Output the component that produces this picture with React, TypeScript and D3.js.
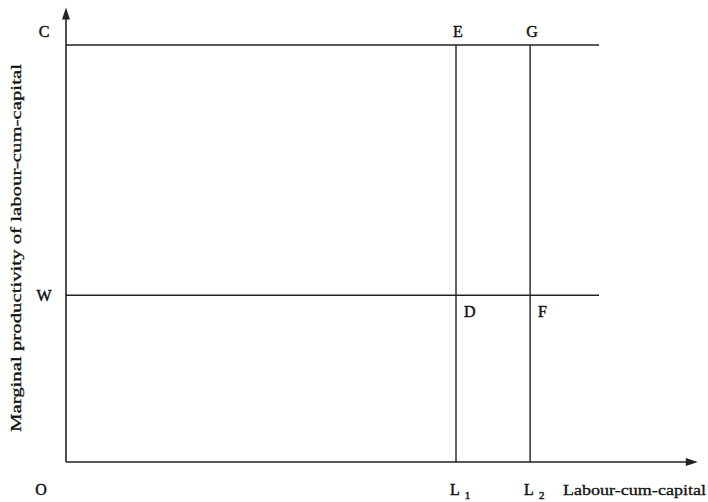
import React from "react";
import * as d3 from "d3";

const levels = [
  { name: "C", value: 10 },
  { name: "W", value: 4 },
];
const labourPoints = [
  { name: "L", sub: "1", value: 6, top: "E", bottom: "D" },
  { name: "L", sub: "2", value: 7.14, top: "G", bottom: "F" },
];
const lineEnd = 8.2;
const xAxisEnd = 9.72;
const yAxisEnd = 10.9;
const xTitle = "Labour-cum-capital";
const yTitle = "Marginal productivity of labour-cum-capital";

export default function App() {
  const W = 708, H = 502;
  const x = d3.scaleLinear().domain([0, 10]).range([66, 716]);
  const y = d3.scaleLinear().domain([0, 10]).range([462, 45]);
  const font = "'Liberation Serif', 'Times New Roman', serif";
  const stroke = "#222";
  const x0 = x(0), y0 = y(0);
  const xe = x(xAxisEnd), ye = y(yAxisEnd);
  const txt = { stroke: "#111", strokeWidth: 0.45 };
  return (
    <svg width={W} height={H} style={{ position: "absolute", left: 0, top: 0, background: "#fff" }}
      fontFamily={font} fill="#111">
      {/* axes */}
      <line x1={x0} y1={y0} x2={x0} y2={ye + 8} stroke={stroke} strokeWidth={1.6} />
      <path d={`M${x0},${ye} L${x0 - 4},${ye + 12} L${x0 + 4},${ye + 12} Z`} fill={stroke} />
      <line x1={x0} y1={y0} x2={xe - 8} y2={y0} stroke={stroke} strokeWidth={1.6} />
      <path d={`M${xe},${y0} L${xe - 12},${y0 - 4} L${xe - 12},${y0 + 4} Z`} fill={stroke} />
      {/* horizontal levels */}
      {levels.map((l) => (
        <g key={l.name}>
          <line x1={x0} y1={y(l.value)} x2={x(lineEnd)} y2={y(l.value)} stroke={stroke} strokeWidth={1.6} />
          <text x={44} y={y(l.value) + (l.name === "C" ? -8 : 6)} fontSize={16} textAnchor="middle" {...txt}>{l.name}</text>
        </g>
      ))}
      {/* verticals */}
      {labourPoints.map((p) => (
        <g key={p.sub}>
          <line x1={x(p.value)} y1={y0} x2={x(p.value)} y2={y(levels[0].value)} stroke={stroke} strokeWidth={1.4} />
          <text x={x(p.value) + 2} y={y(levels[0].value) - 8} fontSize={16} textAnchor="middle" {...txt}>{p.top}</text>
          <text x={x(p.value) + 8} y={y(levels[1].value) + 22} fontSize={16} {...txt}>{p.bottom}</text>
          <text x={x(p.value) - 6} y={y0 + 33} fontSize={16} {...txt}>{p.name}
            <tspan dx={5} dy={4} fontSize={11}>{p.sub}</tspan>
          </text>
        </g>
      ))}
      <text x={41} y={y0 + 33} fontSize={16} textAnchor="middle" {...txt}>O</text>
      <text x={563} y={y0 + 33} fontSize={15} textLength={143} lengthAdjust="spacingAndGlyphs" {...txt} strokeWidth={0.3}>{xTitle}</text>
      <text transform={`translate(21, ${y(5.13)}) rotate(-90)`} fontSize={15} textAnchor="middle"
        textLength={368} lengthAdjust="spacingAndGlyphs" {...txt} strokeWidth={0.3}>{yTitle}</text>
    </svg>
  );
}
